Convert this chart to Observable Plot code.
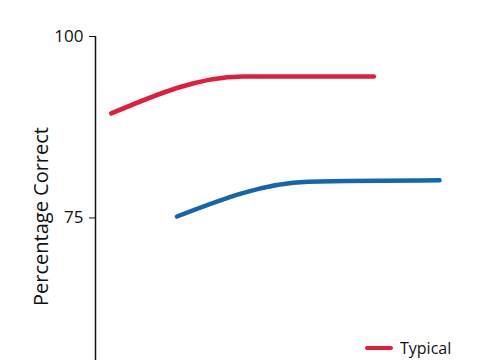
<!DOCTYPE html>
<html>
<head>
<meta charset="utf-8">
<script src="https://cdn.jsdelivr.net/npm/d3@7"></script>
<script src="https://cdn.jsdelivr.net/npm/@observablehq/plot@0.6"></script>
<style>
  html, body { margin: 0; padding: 0; background: #fff; overflow: hidden; }
  #wrap { position: relative; width: 485px; height: 360px; overflow: hidden; }
  #legend { position: absolute; left: 365px; top: 337px; font-family: "Open Sans", sans-serif; font-size: 16px; color: #111; display: flex; align-items: center; }
  #legend .sw { display: inline-block; width: 28px; height: 4px; border-radius: 2px; margin-right: 7px; }
</style>
</head>
<body>
<div id="wrap"><div id="chart"></div><div id="legend"></div></div>
<script>
// Data
const typicalX = [4, 6, 8];
const typicalY = [89.4, 94.5, 94.5];
const otherX = [5, 7, 9];
const otherY = [75.2, 80.0, 80.2];
const yTicks = [75, 100];
const seriesNames = ["Typical", "Other"];
const seriesColors = ["#e31c3d", "#1565b0"];

const rows = [
  ...typicalX.map((x, i) => ({series: seriesNames[0], x, y: typicalY[i]})),
  ...otherX.map((x, i) => ({series: seriesNames[1], x, y: otherY[i]}))
];

const xMin = 3.76;
const chart = Plot.plot({
  width: 485,
  height: 396,
  marginLeft: 95,
  marginRight: 0,
  marginTop: 36,
  marginBottom: 0,
  style: {fontFamily: "'Open Sans', sans-serif", background: "#fff", color: "#111"},
  x: {domain: [xMin, 9.7], axis: null},
  y: {domain: [50.4, 100]},
  color: {domain: seriesNames, range: seriesColors},
  marks: [
    Plot.axisY({ticks: yTicks, tickSize: 6, tickPadding: 6, fontSize: 17, tickFormat: d => String(d),
      label: "Percentage Correct", labelAnchor: "center", labelArrow: "none", labelOffset: 62}),
    Plot.ruleX([xMin], {stroke: "#111", strokeWidth: 1.5}),
    Plot.line(rows, {x: "x", y: "y", z: "series", stroke: "series", strokeWidth: 4.5, curve: "monotone-x", strokeLinecap: "round"})
  ]
});
// enlarge axis label
chart.querySelectorAll("g[aria-label='y-axis label'] text").forEach(t => t.setAttribute("font-size", "20"));
document.getElementById("chart").appendChild(chart);

const lg = document.getElementById("legend");
lg.innerHTML = `<span class="sw" style="background:${seriesColors[0]}"></span><span>${seriesNames[0]}</span>`;
</script>
</body>
</html>
